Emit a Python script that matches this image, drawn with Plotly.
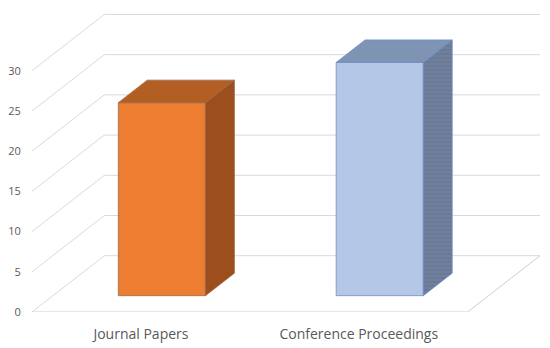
import plotly.graph_objects as go

categories = ["Journal Papers", "Conference Proceedings"]
counts = [24, 29]
y_ticks = [0, 5, 10, 15, 20, 25, 30]

# oblique 3d look: depth offset (x in category units, y in value units)
DX = 0.332
DY = 7.0
BAR_W = 0.4
BAR_D0 = 0.29
BAR_D1 = 0.69

face_colors = [
    # front, top, side, outline
    ("#ED7D31", "#B35E23", "#9C4F1C", "#9a6a50"),
    ("#B4C7E7", "#7F93B3", "#6F7F9C", "#6f8fc8"),
]

fig = go.Figure()

grid = "#d9d9d9"
for v in y_ticks:
    fig.add_trace(go.Scatter(
        x=[0, DX, 2 + DX], y=[v, v + DY, v + DY], mode="lines",
        line=dict(color=grid, width=1), hoverinfo="skip", showlegend=False,
        cliponaxis=False))

# floor
fig.add_trace(go.Scatter(
    x=[0, 2, 2 + DX], y=[0, 0, DY], mode="lines",
    line=dict(color="#cfcfcf", width=1), hoverinfo="skip", showlegend=False,
    cliponaxis=False))


def poly(fig, xs, ys, fill, line, pattern=None):
    kw = {}
    if pattern:
        kw["fillpattern"] = pattern
    fig.add_trace(go.Scatter(
        x=xs + [xs[0]], y=ys + [ys[0]], mode="lines", fill="toself",
        fillcolor=fill, line=dict(color=line, width=0.8),
        hoverinfo="skip", showlegend=False, cliponaxis=False, **kw))


for i, (cat, val) in enumerate(zip(categories, counts)):
    front, top, side, edge = face_colors[i]
    xl = i + 0.5 - BAR_W / 2
    xr = i + 0.5 + BAR_W / 2
    ox0, oy0 = BAR_D0 * DX, BAR_D0 * DY
    ox1, oy1 = BAR_D1 * DX, BAR_D1 * DY
    # front face
    poly(fig, [xl + ox0, xr + ox0, xr + ox0, xl + ox0],
         [oy0, oy0, val + oy0, val + oy0], front, edge)
    # top face
    poly(fig, [xl + ox0, xr + ox0, xr + ox1, xl + ox1],
         [val + oy0, val + oy0, val + oy1, val + oy1], top, edge)
    # side face
    pat = None
    if i == 1:
        pat = dict(shape="-", bgcolor=side, fgcolor="#5f6e8a", size=4, solidity=0.35)
    poly(fig, [xr + ox0, xr + ox1, xr + ox1, xr + ox0],
         [oy0, oy1, val + oy1, val + oy0], side, edge, pat)

# page body adds 8px offset, margins below account for it
font = "Open Sans, Liberation Sans, sans-serif"
fig.update_layout(
    width=550, height=348,
    margin=dict(l=19, r=18, t=0, b=44),
    paper_bgcolor="white", plot_bgcolor="white",
    xaxis=dict(range=[0, 2 + DX], tickvals=[0.5, 1.5], ticktext=categories,
               showgrid=False, zeroline=False, showline=False,
               ticks="outside", ticklen=9, tickcolor="rgba(0,0,0,0)",
               tickfont=dict(family=font, size=14, color="#595959")),
    yaxis=dict(range=[0, 37.8], tickvals=y_ticks,
               showgrid=False, zeroline=False, showline=False,
               ticks="outside", ticklen=8, tickcolor="rgba(0,0,0,0)",
               tickfont=dict(family=font, size=11, color="#595959")),
)

fig.write_html("out.html")
